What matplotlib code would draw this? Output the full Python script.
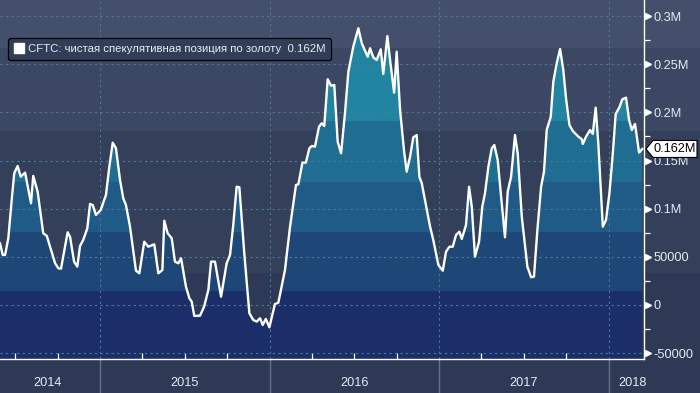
import matplotlib
matplotlib.use("Agg")
import matplotlib.pyplot as plt
import matplotlib.transforms as mtransforms
from matplotlib.lines import Line2D
from matplotlib.patches import Polygon, Rectangle

# CFTC net speculative gold position
# x: decimal years, y: thousands of contracts
years = [
    2014.410, 2014.426, 2014.440, 2014.459, 2014.479, 2014.494, 2014.514, 2014.532, 2014.558, 2014.593,
    2014.606, 2014.632, 2014.665, 2014.686, 2014.735, 2014.754, 2014.770, 2014.809, 2014.823, 2014.847,
    2014.866, 2014.882, 2014.901, 2014.925, 2014.941, 2014.957, 2014.976, 2015.004, 2015.035, 2015.055,
    2015.075, 2015.094, 2015.118, 2015.137, 2015.153, 2015.177, 2015.212, 2015.232, 2015.261, 2015.285,
    2015.320, 2015.344, 2015.368, 2015.379, 2015.399, 2015.423, 2015.442, 2015.462, 2015.478, 2015.507,
    2015.527, 2015.541, 2015.556, 2015.590, 2015.614, 2015.639, 2015.655, 2015.678, 2015.714, 2015.747,
    2015.767, 2015.786, 2015.806, 2015.822, 2015.851, 2015.881, 2015.904, 2015.924, 2015.944, 2015.960,
    2015.978, 2015.999, 2016.032, 2016.052, 2016.091, 2016.121, 2016.156, 2016.170, 2016.194, 2016.214,
    2016.235, 2016.249, 2016.268, 2016.292, 2016.308, 2016.323, 2016.343, 2016.363, 2016.382, 2016.402,
    2016.422, 2016.445, 2016.465, 2016.494, 2016.524, 2016.544, 2016.579, 2016.593, 2016.612, 2016.632,
    2016.656, 2016.671, 2016.695, 2016.711, 2016.735, 2016.750, 2016.770, 2016.794, 2016.809, 2016.829,
    2016.848, 2016.868, 2016.884, 2016.898, 2016.947, 2016.966, 2016.996, 2017.022, 2017.041, 2017.061,
    2017.081, 2017.100, 2017.120, 2017.134, 2017.159, 2017.177, 2017.193, 2017.212, 2017.236, 2017.255,
    2017.271, 2017.291, 2017.311, 2017.326, 2017.346, 2017.366, 2017.389, 2017.405, 2017.425, 2017.448,
    2017.464, 2017.488, 2017.521, 2017.543, 2017.560, 2017.580, 2017.602, 2017.619, 2017.635, 2017.659,
    2017.674, 2017.694, 2017.714, 2017.733, 2017.749, 2017.769, 2017.789, 2017.822, 2017.842, 2017.848,
    2017.867, 2017.891, 2017.907, 2017.924, 2017.940, 2017.966, 2017.985, 2018.005, 2018.025, 2018.042,
    2018.064, 2018.081, 2018.103, 2018.121, 2018.137, 2018.156, 2018.180, 2018.199,
]
net_k = [
    64.1, 51.9, 51.9, 69.3, 109.0, 136.8, 144.3, 133.2, 137.4, 105.6,
    134.0, 117.7, 74.5, 71.7, 43.3, 38.1, 37.7, 75.5, 70.9, 45.0,
    39.8, 61.3, 67.5, 79.6, 104.9, 103.8, 93.5, 98.7, 114.2, 143.6,
    168.5, 162.7, 129.8, 110.8, 103.8, 81.3, 35.6, 32.9, 65.7, 60.5,
    63.0, 32.9, 36.3, 87.5, 74.5, 69.3, 45.0, 43.3, 48.5, 19.0,
    7.0, 3.4, -11.4, -11.1, -1.8, 15.6, 45.0, 45.0, 8.6, 43.3,
    51.9, 83.1, 122.8, 122.2, 53.7, -8.6, -15.6, -17.3, -13.8, -20.8,
    -14.5, -23.2, 1.0, 2.4, 36.3, 81.3, 124.6, 125.3, 147.8, 147.8,
    162.7, 165.1, 164.4, 185.2, 188.7, 185.9, 234.4, 227.7, 228.5, 169.6,
    157.5, 199.1, 242.3, 268.2, 287.3, 271.8, 257.8, 266.6, 257.2, 254.4,
    265.5, 239.9, 279.3, 254.4, 220.5, 263.0, 202.5, 159.2, 138.4, 154.0,
    174.1, 176.5, 133.2, 126.4, 81.3, 67.5, 41.5, 35.6, 55.3, 60.5,
    60.5, 72.7, 76.1, 68.5, 83.1, 122.8, 102.1, 50.2, 65.7, 102.1,
    116.0, 143.6, 162.7, 166.1, 150.6, 112.5, 70.3, 117.7, 133.2, 176.5,
    157.5, 91.7, 39.8, 28.8, 29.4, 77.9, 122.8, 138.4, 181.7, 195.5,
    231.9, 251.0, 265.8, 244.0, 214.6, 186.9, 180.7, 174.8, 172.1, 167.2,
    174.8, 181.7, 177.6, 204.9, 166.1, 81.3, 88.3, 116.0, 157.5, 198.3,
    205.3, 213.6, 215.3, 192.1, 181.7, 188.0, 158.2, 162.0,
]

legend_label = "CFTC: чистая спекулятивная позиция по золоту  0.162M"
last_label = "0.162M"

y_ticks = [-50, 0, 50, 100, 150, 200, 250, 300]
y_tick_labels = ["-50000", "0", "50000", "0.1M", "0.15M", "0.2M", "0.25M", "0.3M"]
year_bounds = [2015, 2016, 2017, 2018]
year_labels = ["2014", "2015", "2016", "2017", "2018"]
year_label_pos = [2014.69, 2015.5, 2016.5, 2017.5, 2018.14]

# background bands (value ranges, thousands) and the stepped fill under the line
bg_bands = [(266.9, 1000, "#44506b"), (180.7, 266.9, "#3b4763"),
            (33.2, 180.7, "#343f5a"), (-1000, 33.2, "#2e3a55")]
fill_bands = [(-1000, 14.5, "#1b2e69"), (14.5, 75.8, "#1e4677"),
              (75.8, 127.7, "#1f5b86"), (127.7, 191.1, "#1f6d91"),
              (191.1, 1000, "#2184a1")]

FONT = ["Liberation Sans", "DejaVu Sans"]
TXT = "#e6ebf3"
YMIN, YMAX = -56.1, 316.7
XMIN, XMAX = 2014.41, 2018.209

fig = plt.figure(figsize=(7, 3.93), dpi=100)
fig.patch.set_facecolor("#2e3a55")
ax = fig.add_axes([0, 34 / 393, 644 / 700, 359 / 393])
ax.patch.set_visible(False)
ax.set_xlim(XMIN, XMAX)
ax.set_ylim(YMIN, YMAX)

fig_blend = mtransforms.blended_transform_factory(fig.transFigure, ax.transData)
for lo, hi, c in bg_bands:
    fig.add_artist(Rectangle((0, lo), 1, hi - lo, transform=fig_blend,
                             facecolor=c, edgecolor="none", zorder=-5))

# area under the line, coloured in horizontal steps
area = ax.fill_between(years, net_k, YMIN - 50, facecolor="none", edgecolor="none")
clip = area.get_paths()[0]
for lo, hi, c in fill_bands:
    span = ax.axhspan(lo, hi, facecolor=c, edgecolor="none", zorder=1)
    span.set_clip_path(clip, ax.transData)

ax.plot(years, net_k, color="white", lw=1.7, zorder=4)

# grid
for v in y_ticks:
    ax.axhline(v, color="#4a7d98", lw=0.8, ls=(0, (2, 3)), zorder=2)
for b in year_bounds:
    ax.axvline(b, color="#4a7d98", lw=0.8, ls=(0, (2, 3)), zorder=2)

# spines
for side in ["top", "left"]:
    ax.spines[side].set_visible(False)
for side in ["right", "bottom"]:
    ax.spines[side].set_color("white")
    ax.spines[side].set_linewidth(1.0)
    ax.spines[side].set_zorder(5)

# y axis on the right
ax.yaxis.tick_right()
ax.set_yticks(y_ticks)
ax.set_yticklabels(y_tick_labels, family=FONT, fontsize=9.2, color=TXT)
ax.set_yticks([v + 25 for v in y_ticks[:-1]], minor=True)
ax.tick_params(axis="y", which="major", length=0, pad=6.5)
ax.tick_params(axis="y", which="minor", length=4, width=0.9, color="white", direction="out")
tri_blend = mtransforms.blended_transform_factory(ax.transAxes, ax.transData)
ax.plot([1.0062] * len(y_ticks), y_ticks, transform=tri_blend, ls="none",
        marker=">", ms=4.5, color="white", mec="white", clip_on=False, zorder=6)

# x axis: quarter ticks inside, year separators below
ax.set_xticks(year_bounds)
ax.set_xticklabels([])
ax.tick_params(axis="x", which="major", length=0)
quarters = [y + q for y in range(2014, 2018) for q in (0.25, 0.5, 0.75)]
ax.set_xticks([q for q in quarters if XMIN < q < XMAX], minor=True)
ax.tick_params(axis="x", which="minor", length=4, width=0.9, color="white", direction="in")
for b in year_bounds:
    ax.axvline(b, ymin=-34 / 359, ymax=0, color="#66718a", lw=1.0, clip_on=False)
xlab_blend = mtransforms.blended_transform_factory(ax.transData, ax.transAxes)
for lab, pos in zip(year_labels, year_label_pos):
    ax.text(pos, -0.067, lab, transform=xlab_blend,
            ha="center", va="center", family=FONT, fontsize=9.2, color=TXT)

# legend
handle = Line2D([], [], marker="s", color="white", ls="none", markersize=7)
leg = ax.legend([handle], [legend_label], loc="upper left", bbox_to_anchor=(0.013, 0.893),
                borderaxespad=0, frameon=True, fancybox=True, facecolor="#323e59",
                edgecolor="black", framealpha=1, handlelength=0.8, handletextpad=0.45,
                borderpad=0.5, prop={"family": FONT, "size": 8.2})
leg.get_frame().set_linewidth(0.9)
for t in leg.get_texts():
    t.set_color(TXT)

# last value tag on the right axis
ax_x, ax_y = ax.transData.transform((XMAX, net_k[-1]))
h = 8.5
pts = [(ax_x + 2, ax_y), (ax_x + 9, ax_y + h), (697, ax_y + h), (697, ax_y - h), (ax_x + 9, ax_y - h)]
fig.add_artist(Polygon(pts, closed=True, transform=mtransforms.IdentityTransform(),
                       facecolor="white", edgecolor="black", lw=0.8, zorder=10))
fig.text((ax_x + 9 + 697) / 2, ax_y, last_label, transform=mtransforms.IdentityTransform(),
         ha="center", va="center", family=FONT, fontsize=9.2, color="black", zorder=11)

fig.savefig("out.png", dpi=100)
